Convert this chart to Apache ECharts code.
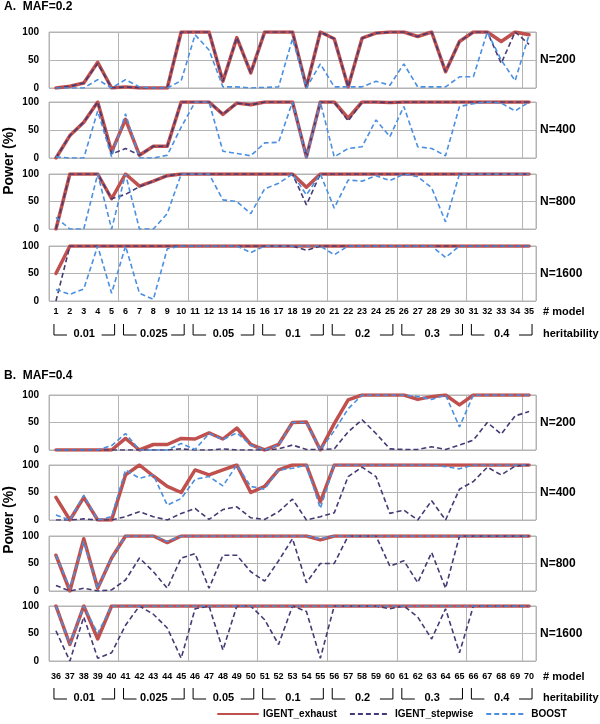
<!DOCTYPE html>
<html><head><meta charset="utf-8">
<script src="https://cdn.jsdelivr.net/npm/echarts@6/dist/echarts.min.js"></script>
<style>html,body{margin:0;padding:0;background:#fff}#c{width:600px;height:724px}</style>
</head><body><div id="c"></div>
<script>
// ---------- DATA ----------
const modelsA = ['1','2','3','4','5','6','7','8','9','10','11','12','13','14','15','16','17','18','19','20','21','22','23','24','25','26','27','28','29','30','31','32','33','34','35'];
const modelsB = ['36','37','38','39','40','41','42','43','44','45','46','47','48','49','50','51','52','53','54','55','56','57','58','59','60','61','62','63','64','65','66','67','68','69','70'];
const heritability = ['0.01','0.025','0.05','0.1','0.2','0.3','0.4'];
const sampleSizes = ['N=200','N=400','N=800','N=1600'];
const seriesNames = ['IGENT_exhaust','IGENT_stepwise','BOOST'];

// Panel A  (MAF = 0.2), models 1-35
const A200_exhaust  = [0,3,9,46,0,2,0,0,0,100,100,100,12,90,27,100,100,100,2,100,88,2,89,98,100,100,92,100,29,83,100,100,83,100,95];
const A200_stepwise = [0,3,9,44,0,2,0,0,0,100,100,100,12,90,27,100,100,100,2,100,88,2,89,98,100,100,92,100,29,83,100,100,44,100,78];
const A200_boost    = [0,0,0,15,0,15,2,0,0,13,95,68,2,2,0,1,2,88,0,43,2,2,2,12,5,43,2,2,2,20,20,100,50,13,95];

const A400_exhaust  = [0,40,64,100,11,69,5,21,21,100,100,100,78,98,95,100,100,100,2,100,100,71,100,100,99,100,100,100,100,100,100,100,100,100,100];
const A400_stepwise = [0,40,64,100,7,17,5,21,21,100,100,100,78,98,95,100,100,100,2,100,100,66,100,100,99,100,100,100,100,100,100,100,100,100,100];
const A400_boost    = [2,0,0,84,2,79,0,0,5,55,100,100,12,8,4,27,28,100,0,100,2,17,20,68,38,92,20,17,4,92,97,100,98,84,100];

const A800_exhaust  = [0,100,100,100,55,100,78,87,97,100,100,100,100,100,100,100,100,100,76,100,100,100,100,100,100,100,100,100,100,100,100,100,100,100,100];
const A800_stepwise = [0,100,100,100,55,63,77,87,97,100,100,100,100,100,100,100,100,100,44,100,100,100,100,100,100,100,100,100,100,100,100,100,100,100,100];
const A800_boost    = [21,0,0,100,0,100,0,0,28,100,100,100,53,50,28,73,83,100,62,100,38,89,87,97,88,100,95,75,13,100,100,100,100,100,100];

const A1600_exhaust  = [50,100,100,100,100,100,100,100,100,100,100,100,100,100,100,100,100,100,100,100,100,100,100,100,100,100,100,100,100,100,100,100,100,100,100];
const A1600_stepwise = [0,100,100,100,100,100,100,100,100,100,100,100,100,100,100,100,100,100,92,100,100,100,100,100,100,100,100,100,100,100,100,100,100,100,100];
const A1600_boost    = [21,12,22,100,14,100,14,3,95,100,100,100,100,100,88,100,100,100,100,100,84,100,100,100,100,100,100,100,79,100,100,100,100,100,100];

// Panel B  (MAF = 0.4), models 36-70
const B200_exhaust  = [0,0,0,0,0,21,0,10,10,21,20,31,20,40,10,0,10,50,51,0,48,91,100,100,100,100,92,97,100,82,100,100,100,100,100];
const B200_stepwise = [0,0,0,0,0,0,0,0,0,2,0,0,2,0,0,0,2,9,1,1,2,33,55,30,2,1,1,6,1,9,18,50,29,62,70];
const B200_boost    = [0,0,0,0,8,30,0,0,0,12,1,30,19,31,9,0,9,50,50,0,35,75,100,100,100,100,97,92,100,42,100,100,100,100,100];

const B400_exhaust  = [41,0,41,0,0,82,100,80,61,50,91,82,91,100,50,61,91,100,100,33,100,100,100,100,100,100,100,100,100,100,100,100,100,100,100];
const B400_stepwise = [0,0,2,0,0,6,15,6,0,12,21,1,19,24,4,1,15,38,0,6,13,79,96,79,12,18,0,35,0,56,70,96,82,98,100];
const B400_boost    = [9,0,45,0,6,91,76,82,27,39,74,79,62,100,61,56,91,94,100,21,100,100,100,100,100,100,100,100,97,93,100,100,100,100,100];

const B800_exhaust  = [65,0,95,5,60,100,100,100,88,100,100,100,100,100,100,100,100,100,100,93,100,100,100,100,100,100,100,100,100,100,100,100,100,100,100];
const B800_stepwise = [10,0,5,0,2,20,60,35,5,60,68,5,65,65,35,18,55,95,15,50,50,100,100,100,45,55,15,70,5,100,100,100,100,100,100];
const B800_boost    = [65,5,90,5,60,100,100,100,90,100,100,100,100,100,100,100,100,100,100,95,100,100,100,100,100,100,100,100,100,100,100,100,100,100,100];

const B1600_exhaust  = [100,30,100,40,100,100,100,100,100,100,100,100,100,100,100,100,100,100,100,100,100,100,100,100,100,100,100,100,100,100,100,100,100,100,100];
const B1600_stepwise = [55,0,80,5,15,65,100,85,60,5,95,100,20,100,100,75,30,100,90,5,100,100,100,100,95,100,80,40,95,15,100,100,100,100,100];
const B1600_boost    = [100,30,100,50,100,100,100,100,100,100,100,100,100,100,100,100,100,100,100,100,100,100,100,100,100,100,100,100,100,100,100,100,100,100,100];

// ---------- LAYOUT / STYLE ----------
const FONT = '"Liberation Sans", Arial, sans-serif';
const COLORS = ['#c0504d', '#463a74', '#4a8fe0'];
const GRID_LINE = '#b4b4b4';
const rows = [
  {top: 32,  h: 56, cats: modelsA, data: [A200_exhaust, A200_stepwise, A200_boost]},
  {top: 102, h: 56, cats: modelsA, data: [A400_exhaust, A400_stepwise, A400_boost]},
  {top: 174, h: 55, cats: modelsA, data: [A800_exhaust, A800_stepwise, A800_boost]},
  {top: 246, h: 55, cats: modelsA, data: [A1600_exhaust, A1600_stepwise, A1600_boost], bottomRow: {lab: 11, her: 33}},
  {top: 395, h: 55, cats: modelsB, data: [B200_exhaust, B200_stepwise, B200_boost]},
  {top: 465, h: 55, cats: modelsB, data: [B400_exhaust, B400_stepwise, B400_boost]},
  {top: 536, h: 55, cats: modelsB, data: [B800_exhaust, B800_stepwise, B800_boost]},
  {top: 606, h: 55, cats: modelsB, data: [B1600_exhaust, B1600_stepwise, B1600_boost], bottomRow: {lab: 16, her: 37}}
];

const grid = [], xAxis = [], yAxis = [], series = [];
rows.forEach((r, i) => {
  grid.push({left: 49, right: 64, top: r.top, height: r.h, show: true, borderColor: GRID_LINE, borderWidth: 1});
  xAxis.push({
    type: 'category', gridIndex: i, data: r.cats, boundaryGap: true,
    axisLine: {show: false}, axisTick: {show: false},
    axisLabel: {show: !!r.bottomRow, interval: 0, margin: r.bottomRow ? r.bottomRow.lab - 5 : 6, fontSize: 9, fontWeight: 'bold', color: '#000', fontFamily: FONT},
    splitLine: {show: true, interval: 4, lineStyle: {color: GRID_LINE, width: 1}}
  });
  yAxis.push({
    type: 'value', gridIndex: i, min: 0, max: 100, interval: 50,
    axisLine: {show: false}, axisTick: {show: false},
    axisLabel: {margin: 10, fontSize: 10, fontWeight: 'bold', color: '#000', fontFamily: FONT},
    splitLine: {show: true, lineStyle: {color: GRID_LINE, width: 1}}
  });
  r.data.forEach((d, k) => {
    series.push({
      name: seriesNames[k], type: 'line', xAxisIndex: i, yAxisIndex: i, data: d,
      symbol: 'none', silent: true, z: 2 + k,
      lineStyle: k === 0 ? {color: COLORS[0], width: 3.5, cap: 'round', join: 'round'}
                         : {color: COLORS[k], width: 1.6, type: [5, 3]},
      itemStyle: {color: COLORS[k]}
    });
  });
});

const chart = echarts.init(document.getElementById('c'), null, {renderer: 'canvas'});
chart.setOption({
  animation: false,
  backgroundColor: '#fff',
  grid, xAxis, yAxis, series,
  legend: {
    data: seriesNames, left: 212, bottom: 0, itemWidth: 40, itemHeight: 10, itemGap: 12,
    itemStyle: {opacity: 0},
    textStyle: {fontSize: 10, fontWeight: 'bold', color: '#000', fontFamily: FONT},
    selectedMode: false
  }
});

// ---------- ANNOTATIONS (positions derived from axes) ----------
const g = [];
const txt = (x, y, s, opt) => g.push(Object.assign({type: 'text', x, y, silent: true,
  style: Object.assign({text: s, fill: '#000', font: 'bold 12px ' + FONT, textVerticalAlign: 'middle'}, opt || {})}));

txt(4, 7, 'A.  MAF=0.2', {font: 'bold 12px ' + FONT});
txt(4, 376, 'B.  MAF=0.4', {font: 'bold 12px ' + FONT});

rows.forEach((r, i) => {
  const yMid = chart.convertToPixel({yAxisIndex: i}, 50);
  txt(540, yMid, sampleSizes[i % 4], {font: 'bold 12px ' + FONT});
  if (r.bottomRow) {
    const yBot = chart.convertToPixel({yAxisIndex: i}, 0);
    txt(543, yBot + r.bottomRow.lab, '# model', {font: 'bold 11px ' + FONT});
    txt(543, yBot + r.bottomRow.her, 'heritability', {font: 'bold 11px ' + FONT});
    heritability.forEach((h, gI) => {
      const x0 = chart.convertToPixel({xAxisIndex: i}, r.cats[gI * 5]) - 2;
      const x1 = chart.convertToPixel({xAxisIndex: i}, r.cats[gI * 5 + 4]) + 3;
      const yTop = yBot + r.bottomRow.her - 10, yLine = yBot + r.bottomRow.her + 1;
      const ls = {stroke: '#000', lineWidth: 1, fill: null};
      g.push({type: 'polyline', silent: true, shape: {points: [[x0, yTop], [x0, yLine], [x0 + 13, yLine]]}, style: ls});
      g.push({type: 'polyline', silent: true, shape: {points: [[x1 - 13, yLine], [x1, yLine], [x1, yTop]]}, style: ls});
      txt((x0 + x1) / 2, yBot + r.bottomRow.her, h, {font: 'bold 11px ' + FONT, textAlign: 'center'});
    });
  }
});
// y-axis titles
[[9, 161], [9, 520]].forEach(p => g.push({type: 'text', x: p[0], y: p[1], rotation: Math.PI / 2, silent: true,
  style: {text: 'Power (%)', font: 'bold 14px ' + FONT, fill: '#000', textAlign: 'center', textVerticalAlign: 'middle'}}));

chart.setOption({graphic: g});
</script>
</body></html>
